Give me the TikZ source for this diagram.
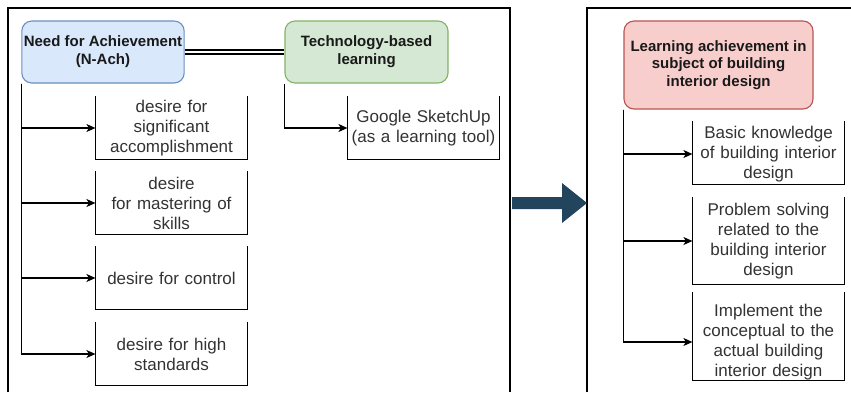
\documentclass[tikz,border=0pt]{standalone}
\usepackage{fontspec}
\setmainfont{Liberation Sans}
\usetikzlibrary{calc,arrows.meta,positioning}
\definecolor{nachfill}{HTML}{DAE8FC}
\definecolor{nachdraw}{HTML}{6C8EBF}
\definecolor{techfill}{HTML}{D5E8D4}
\definecolor{techdraw}{HTML}{82B366}
\definecolor{learnfill}{HTML}{F8CECC}
\definecolor{learndraw}{HTML}{B85450}
\definecolor{bigarrow}{HTML}{23445D}
\tikzset{
    every node/.style={font=\fontsize{17}{20}\selectfont},
    title node/.style={draw,line width=1.1pt,rounded corners=10pt,minimum height=62pt,align=center,inner sep=2pt,text=black!90,font=\fontsize{15}{18}\selectfont\bfseries},
    item node/.style={minimum width=151pt,text width=147pt,inner sep=0pt,align=center,text=black!80},
    arr/.style={-{Stealth[length=9pt,width=8pt,inset=2.5pt]},line width=1.3pt}
}

\begin{document}
\begin{tikzpicture}[x=1pt,y=-1pt,line width=1.2pt]
    \useasboundingbox[fill=white] (0,0) rectangle (851,392);

    % frames
    \draw (8,392) -- (8,8) -- (510,8) -- (510,392);
    \draw (587,392) -- (587,8) -- (851,8);

    % heads
    \node[title node,fill=nachfill,draw=nachdraw,minimum width=162pt] (nach) at (103,52) {Need for Achievement\\(N-Ach)};
    \node[title node,fill=techfill,draw=techdraw,minimum width=163pt] (tech) at (366.5,52) {Technology-based\\learning};
    \node[title node,fill=learnfill,draw=learndraw,minimum width=189pt,minimum height=88pt,font=\fontsize{15}{17.5}\selectfont\bfseries] (learn) at (718.5,65) {Learning achievement in\\subject of building\\interior design};

    % items
    \node[item node,minimum height=62pt] (d1) at (171.5,128) {desire for\\significant\\accomplishment};
    \node[item node,minimum height=62pt] (d2) at (171.5,203) {desire\\for mastering of\\skills};
    \node[item node,minimum height=62pt] (d3) at (171.5,278) {desire for control};
    \node[item node,minimum height=62pt] (d4) at (171.5,354) {desire for high\\standards};
    \node[item node,minimum height=62pt] (g1) at (423.5,128) {Google SketchUp\\(as a learning tool)};
    \node[item node,minimum height=60pt] (b1) at (768.5,154) {Basic knowledge\\of building interior\\design};
    \node[item node,minimum height=86pt] (b2) at (768.5,241) {Problem solving\\related to the\\building interior\\design};
    \node[item node,minimum height=68pt] (b3) at (768.5,342) {Implement the\\conceptual to the\\actual building\\interior design};

    % open-top boxes
    \foreach \n/\ext in {d1/0,d2/0,d3/0,d4/0,g1/0,b1/2,b2/0,b3/11}
        \draw ([yshift=\ext pt]\n.north west) -- (\n.south west) -- (\n.south east) -- ([yshift=\ext pt]\n.north east);

    % links
    \draw ([yshift=2pt]nach.east) -- ([yshift=2pt]tech.west);
    \draw ([yshift=-2pt]nach.east) -- ([yshift=-2pt]tech.west);
    \foreach \n in {d1,d2,d3,d4}
        \draw[arr] (nach.south west) |- (\n.west);
    \draw[arr] (tech.south west) |- (g1.west);
    \foreach \n in {b1,b2,b3}
        \draw[arr] (learn.south west) |- (\n.west);

    % big arrow
    \fill[bigarrow] (512,197) -- (562,197) -- (562,183) -- (587,203) -- (562,223) -- (562,209) -- (512,209) -- cycle;
\end{tikzpicture}
\end{document}
